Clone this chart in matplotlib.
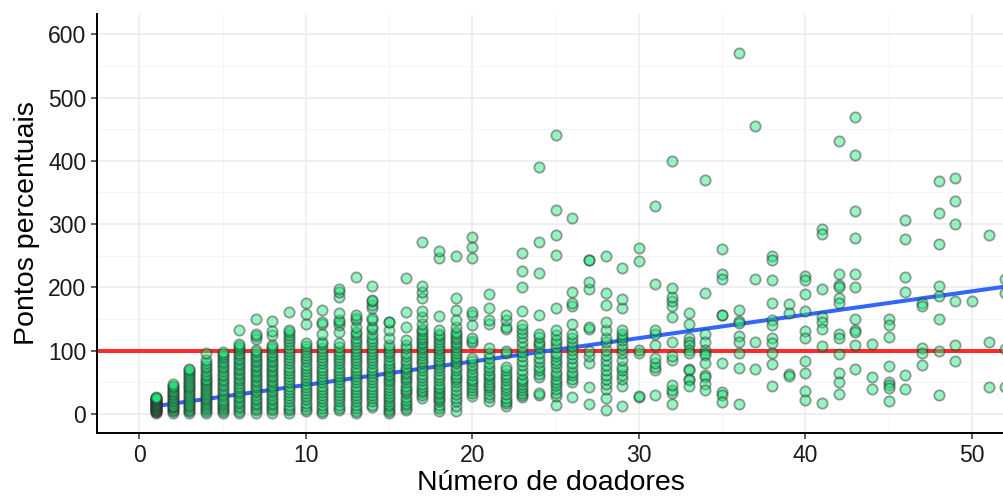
import matplotlib
matplotlib.use("Agg")
import matplotlib.pyplot as plt
import numpy as np

plt.rcParams['font.family'] = ['Liberation Sans', 'DejaVu Sans']

#%% Data: percentual points per number of donors

pct_01 = [2, 3, 4, 5, 6, 7, 8, 9, 10, 11, 12, 13, 14, 15, 16, 17, 18, 19, 20, 21, 22, 23, 24, 25, 26, 27]
pct_02 = [2, 4, 6, 9, 11, 13, 15, 18, 20, 22, 25, 27, 30, 32, 35, 37, 40, 42, 45, 47]
pct_03 = [2, 4, 7, 10, 12, 15, 18, 21, 24, 27, 30, 33, 36, 39, 42, 45, 48, 51, 54, 57, 60, 63, 66, 69, 71]
pct_04 = [2, 5, 8, 11, 14, 17, 20, 23, 26, 29, 32, 35, 38, 41, 44, 47, 50, 53, 56, 60, 64, 68, 72, 76,
          80, 85, 96]
pct_05 = [2, 5, 8, 11, 14, 17, 20, 24, 28, 32, 36, 40, 44, 48, 52, 56, 60, 64, 68, 72, 76, 80, 84, 88,
          92, 95, 98]
pct_06 = [2, 5, 9, 13, 17, 21, 25, 29, 33, 37, 41, 45, 49, 53, 57, 61, 65, 69, 73, 77, 81, 85, 89, 93,
          97, 101, 105, 108, 110, 133]
pct_07 = [2, 6, 10, 14, 18, 22, 26, 30, 34, 38, 42, 46, 50, 54, 58, 62, 66, 70, 74, 78, 82, 86, 90, 94,
          98, 101, 119, 123, 127, 150]
pct_08 = [2, 6, 10, 14, 18, 22, 26, 30, 34, 38, 42, 46, 50, 54, 58, 62, 66, 70, 74, 78, 82, 86, 90, 94,
          98, 102, 106, 109, 125, 131, 147]
pct_09 = [2, 6, 10, 15, 20, 25, 30, 35, 40, 45, 50, 55, 60, 65, 70, 75, 80, 85, 90, 95, 100, 105, 110,
          115, 120, 125, 130, 133, 161]
pct_10 = [4, 8, 13, 18, 23, 28, 33, 38, 43, 48, 53, 58, 63, 68, 73, 78, 83, 88, 93, 98, 103, 108, 112,
          143, 158, 175]
pct_11 = [1, 5, 10, 15, 20, 25, 30, 35, 40, 45, 50, 55, 60, 65, 70, 75, 80, 85, 90, 95, 100, 105, 110,
          114, 127, 142, 146, 165]
pct_12 = [6, 10, 15, 20, 25, 30, 35, 40, 45, 50, 55, 60, 65, 70, 75, 80, 85, 90, 95, 100, 106, 112, 130,
          141, 145, 149, 159, 185, 193, 198]
pct_13 = [1, 5, 10, 15, 20, 25, 30, 35, 40, 45, 50, 55, 60, 65, 70, 75, 80, 85, 90, 95, 100, 105, 110,
          115, 120, 127, 130, 138, 149, 151, 156, 217]
pct_14 = [11, 15, 20, 25, 30, 35, 40, 45, 50, 55, 60, 65, 70, 75, 80, 85, 90, 95, 100, 105, 110, 115,
          120, 127, 135, 138, 149, 151, 167, 173, 178, 180, 202]
pct_15 = [1, 4, 8, 12, 16, 20, 25, 29, 33, 38, 43, 48, 52, 56, 60, 64, 68, 72, 76, 80, 85, 91, 96, 100,
          104, 109, 120, 133, 145, 146]
pct_16 = [6, 10, 14, 18, 22, 27, 33, 36, 40, 45, 51, 55, 59, 63, 67, 71, 75, 80, 85, 91, 97, 104, 109,
          117, 137, 161, 215]
pct_17 = [25, 30, 34, 38, 43, 48, 53, 59, 64, 70, 75, 80, 84, 88, 93, 98, 102, 106, 110, 114, 118, 122,
          127, 131, 135, 142, 154, 162, 184, 193, 202, 271]
pct_18 = [4, 9, 14, 20, 24, 27, 31, 35, 39, 43, 48, 54, 59, 64, 70, 75, 79, 83, 87, 91, 96, 101, 105,
          109, 114, 118, 123, 127, 133, 155, 246, 257]
pct_19 = [4, 12, 20, 25, 31, 38, 45, 51, 55, 59, 64, 70, 75, 80, 84, 88, 92, 96, 101, 106, 110, 114, 118,
          122, 126, 130, 138, 149, 164, 184, 250]
pct_20 = [28, 33, 38, 43, 48, 52, 56, 62, 67, 72, 77, 83, 88, 112, 116, 120, 141, 156, 161, 246, 264, 279]
pct_21 = [20, 27, 32, 38, 42, 46, 51, 56, 60, 64, 70, 75, 81, 88, 96, 104, 143, 149, 167, 190]
pct_22 = [12, 17, 21, 25, 31, 38, 43, 48, 54, 59, 64, 69, 75, 96, 100, 135, 138, 149, 156]
pct_23 = [27, 30, 33, 38, 43, 48, 52, 56, 63, 70, 77, 84, 91, 98, 106, 114, 122, 128, 135, 141, 163, 200,
          226, 255]
pct_24 = [30, 33, 59, 64, 70, 75, 82, 88, 97, 106, 110, 114, 122, 127, 156, 223, 271, 390]
pct_25 = [14, 28, 33, 40, 46, 51, 56, 62, 67, 75, 80, 85, 91, 96, 106, 112, 117, 125, 133, 167, 252, 283,
          322, 441]
pct_26 = [27, 51, 56, 62, 67, 75, 81, 88, 95, 101, 108, 114, 120, 127, 143, 170, 175, 193, 309]
pct_27 = [16, 43, 80, 91, 99, 135, 138, 198, 209, 243, 244]
pct_28 = [6, 26, 40, 48, 55, 62, 70, 77, 85, 93, 101, 114, 120, 133, 146, 172, 191, 249]
pct_29 = [13, 44, 55, 62, 70, 75, 85, 96, 103, 109, 117, 122, 127, 133, 167, 182, 231]
pct_30 = [27, 28, 96, 101, 242, 262]
pct_31 = [30, 70, 75, 80, 88, 109, 127, 133, 205, 328]
pct_32 = [16, 33, 38, 46, 85, 91, 114, 154, 171, 178, 185, 199, 400]
pct_33 = [159, 143, 120, 114, 109, 101, 96, 71, 69, 55, 53, 44]
pct_34 = [370, 191, 127, 114, 101, 96, 93, 80, 62, 59, 48, 38]
pct_35 = [261, 222, 213, 157, 156, 81, 35, 30, 19]
pct_36 = [571, 165, 147, 144, 123, 114, 97, 73, 16]
pct_37 = [455, 213, 114, 71]
pct_38 = [249, 243, 212, 176, 149, 141, 120, 112, 97, 79, 44]
pct_39 = [174, 159, 64, 60]
pct_40 = [218, 212, 189, 163, 131, 120, 83, 65, 36, 22]
pct_41 = [292, 284, 197, 154, 146, 135, 107, 18]
pct_42 = [431, 221, 204, 200, 183, 175, 126, 120, 95, 65, 51, 32]
pct_43 = [469, 409, 320, 278, 221, 200, 150, 133, 130, 109, 71]
pct_44 = [111, 59, 39]
pct_45 = [150, 141, 121, 76, 50, 46, 41, 20]
pct_46 = [307, 276, 216, 193, 62, 40]
pct_47 = [175, 171, 104, 96, 77]
pct_48 = [368, 318, 269, 202, 187, 150, 100, 30]
pct_49 = [373, 337, 300, 179, 109, 84]
pct_50 = [179]
pct_51 = [283, 114, 43]
pct_52 = [214, 191, 102, 42]

# linear trend (geom_smooth lm)
trend_intercept = 8.9
trend_slope = 3.7
reference_level = 100

#%%
columns = [pct_01, pct_02, pct_03, pct_04, pct_05, pct_06, pct_07, pct_08, pct_09, pct_10,
           pct_11, pct_12, pct_13, pct_14, pct_15, pct_16, pct_17, pct_18, pct_19, pct_20,
           pct_21, pct_22, pct_23, pct_24, pct_25, pct_26, pct_27, pct_28, pct_29, pct_30,
           pct_31, pct_32, pct_33, pct_34, pct_35, pct_36, pct_37, pct_38, pct_39, pct_40,
           pct_41, pct_42, pct_43, pct_44, pct_45, pct_46, pct_47, pct_48, pct_49, pct_50,
           pct_51, pct_52]

donors = []
points = []
for i, col in enumerate(columns):
    donors.extend([i + 1] * len(col))
    points.extend(col)
donors = np.array(donors)
points = np.array(points)

#%%
fig = plt.figure(figsize=(10.04, 4.97), dpi=100)
ax = fig.add_axes([0.0969, 0.1294, 0.9031, 0.8424])

ax.axhline(reference_level, color='#ff2b2b', lw=2.9, zorder=2)
xs = np.array([donors.min(), donors.max()])
ax.plot(xs, trend_intercept + trend_slope * xs, color='#3366ff', lw=2.9, zorder=2)

ax.scatter(donors, points, s=55, facecolor='#1ee87a', edgecolor='#2a2a2a',
           linewidths=1.3, alpha=0.45, zorder=3)

ax.set_xlim(-2.52, 51.93)
ax.set_ylim(-29.5, 632)
ax.set_xticks([0, 10, 20, 30, 40, 50])
ax.set_yticks([0, 100, 200, 300, 400, 500, 600])
ax.set_xticks(np.arange(5, 55, 10), minor=True)
ax.set_yticks(np.arange(50, 650, 100), minor=True)

ax.grid(which='major', color='#ebebeb', lw=1.1, zorder=0)
ax.grid(which='minor', color='#f2f2f2', lw=0.6, zorder=0)
ax.set_axisbelow(True)

for side in ['top', 'right']:
    ax.spines[side].set_visible(False)
for side in ['left', 'bottom']:
    ax.spines[side].set_linewidth(1.4)
    ax.spines[side].set_color('black')

ax.tick_params(which='major', length=4, width=1.1, color='#333333',
               labelsize=16.5, labelcolor='#1a1a1a', pad=4)
ax.tick_params(which='minor', length=0)

ax.set_xlabel('Número de doadores', fontsize=20.5, labelpad=2)
ax.set_ylabel('Pontos percentuais', fontsize=20.5, labelpad=6)

fig.savefig('out.png', dpi=100)
